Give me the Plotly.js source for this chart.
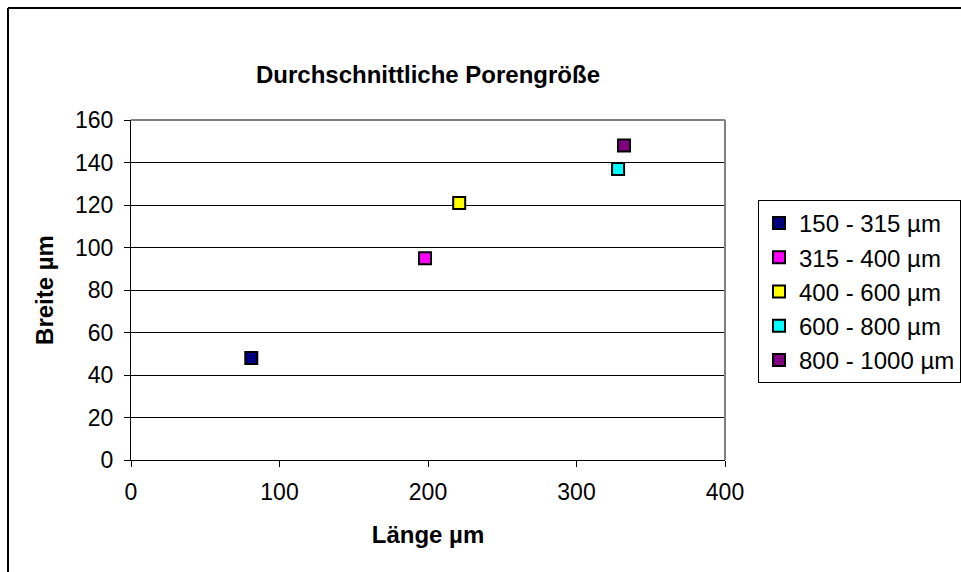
<!DOCTYPE html>
<html>
<head>
<meta charset="utf-8">
<script src="https://cdn.plot.ly/plotly-3.0.1.min.js"></script>
<style>
  html, body { margin: 0; padding: 0; background: #fff; }
  #chart { width: 961px; height: 572px; }
</style>
</head>
<body>
<div id="chart"></div>
<script>
// Pore size classes (sieve fractions)
const classes = ['150 - 315 µm', '315 - 400 µm', '400 - 600 µm', '600 - 800 µm', '800 - 1000 µm'];
// Mean pore length (µm)
const laenge = [81, 198, 221, 328, 332];
// Mean pore width (µm)
const breite = [48, 95, 121, 137, 148];
const colors = ['#000080', '#FF00FF', '#FFFF00', '#00FFFF', '#800080'];

const FONT = 'Arial, "Liberation Sans", sans-serif';

const traces = classes.map((name, i) => ({
  type: 'scatter',
  mode: 'markers',
  name: name,
  x: [laenge[i]],
  y: [breite[i]],
  legendgroup: 'g' + i,
  marker: {
    symbol: 'square',
    size: 12,
    color: colors[i],
    line: { color: '#000', width: 2 }
  },
  hoverinfo: 'x+y+name'
}));

// plot area in pixels: left 131, right 725, top 120, bottom 460
const L = 131, R = 725, T = 120, B = 460;
const px = v => (v - L) / (R - L);
const py = v => (B - v) / (B - T);

const layout = {
  width: 961,
  height: 572,
  margin: { l: L, r: 961 - R, t: T, b: 572 - B, autoexpand: false },
  paper_bgcolor: '#fff',
  plot_bgcolor: '#fff',
  font: { family: FONT, size: 24, color: '#000' },
  showlegend: true,
  title: {
    text: '<b>Durchschnittliche Porengröße</b>',
    font: { family: FONT, size: 24, color: '#000' },
    xref: 'paper', x: 0.5, xanchor: 'center',
    yref: 'container', y: 1 - 75 / 572, yanchor: 'middle'
  },
  xaxis: {
    range: [0, 400],
    tickvals: [0, 100, 200, 300, 400],
    ticks: 'outside', ticklen: 6, tickwidth: 1, tickcolor: '#000',
    ticklabelstandoff: 5,
    showline: true, linecolor: '#000', linewidth: 1,
    showgrid: false, zeroline: false,
    tickfont: { family: FONT, size: 23, color: '#000' },
    title: { text: '<b>Länge µm</b>', font: { family: FONT, size: 24, color: '#000' }, standoff: 22 },
    fixedrange: true
  },
  yaxis: {
    range: [0, 160],
    tickvals: [0, 20, 40, 60, 80, 100, 120, 140, 160],
    ticks: 'outside', ticklen: 6, tickwidth: 1, tickcolor: '#000',
    ticklabelstandoff: 6,
    showline: true, linecolor: '#000', linewidth: 1,
    showgrid: true, gridcolor: '#000', gridwidth: 1,
    zeroline: false,
    tickfont: { family: FONT, size: 23, color: '#000' },
    title: { text: '<b>Breite µm</b>', font: { family: FONT, size: 24, color: '#000' }, standoff: 14 },
    fixedrange: true
  },
  legend: {
    x: px(758), y: py(200), xanchor: 'left', yanchor: 'top',
    bordercolor: '#000', borderwidth: 1, bgcolor: '#fff',
    font: { family: FONT, size: 24, color: '#000' },
    tracegroupgap: 0,
    itemwidth: 30
  },
  shapes: [
    // plot-area frame, top and right edges
    { type: 'line', xref: 'paper', yref: 'paper', x0: 0, x1: 1, y0: 1, y1: 1, line: { color: '#808080', width: 2 }, layer: 'above' },
    { type: 'line', xref: 'paper', yref: 'paper', x0: 1, x1: 1, y0: 0, y1: 1, line: { color: '#808080', width: 2 }, layer: 'above' },
    // chart-area frame
    { type: 'line', xref: 'paper', yref: 'paper', x0: px(8), x1: px(962), y0: py(8), y1: py(8), line: { color: '#000', width: 2 } },
    { type: 'line', xref: 'paper', yref: 'paper', x0: px(8), x1: px(8), y0: py(8), y1: py(574), line: { color: '#000', width: 2 } }
  ]
};

Plotly.newPlot('chart', traces, layout, { displayModeBar: false, staticPlot: true });
</script>
</body>
</html>
